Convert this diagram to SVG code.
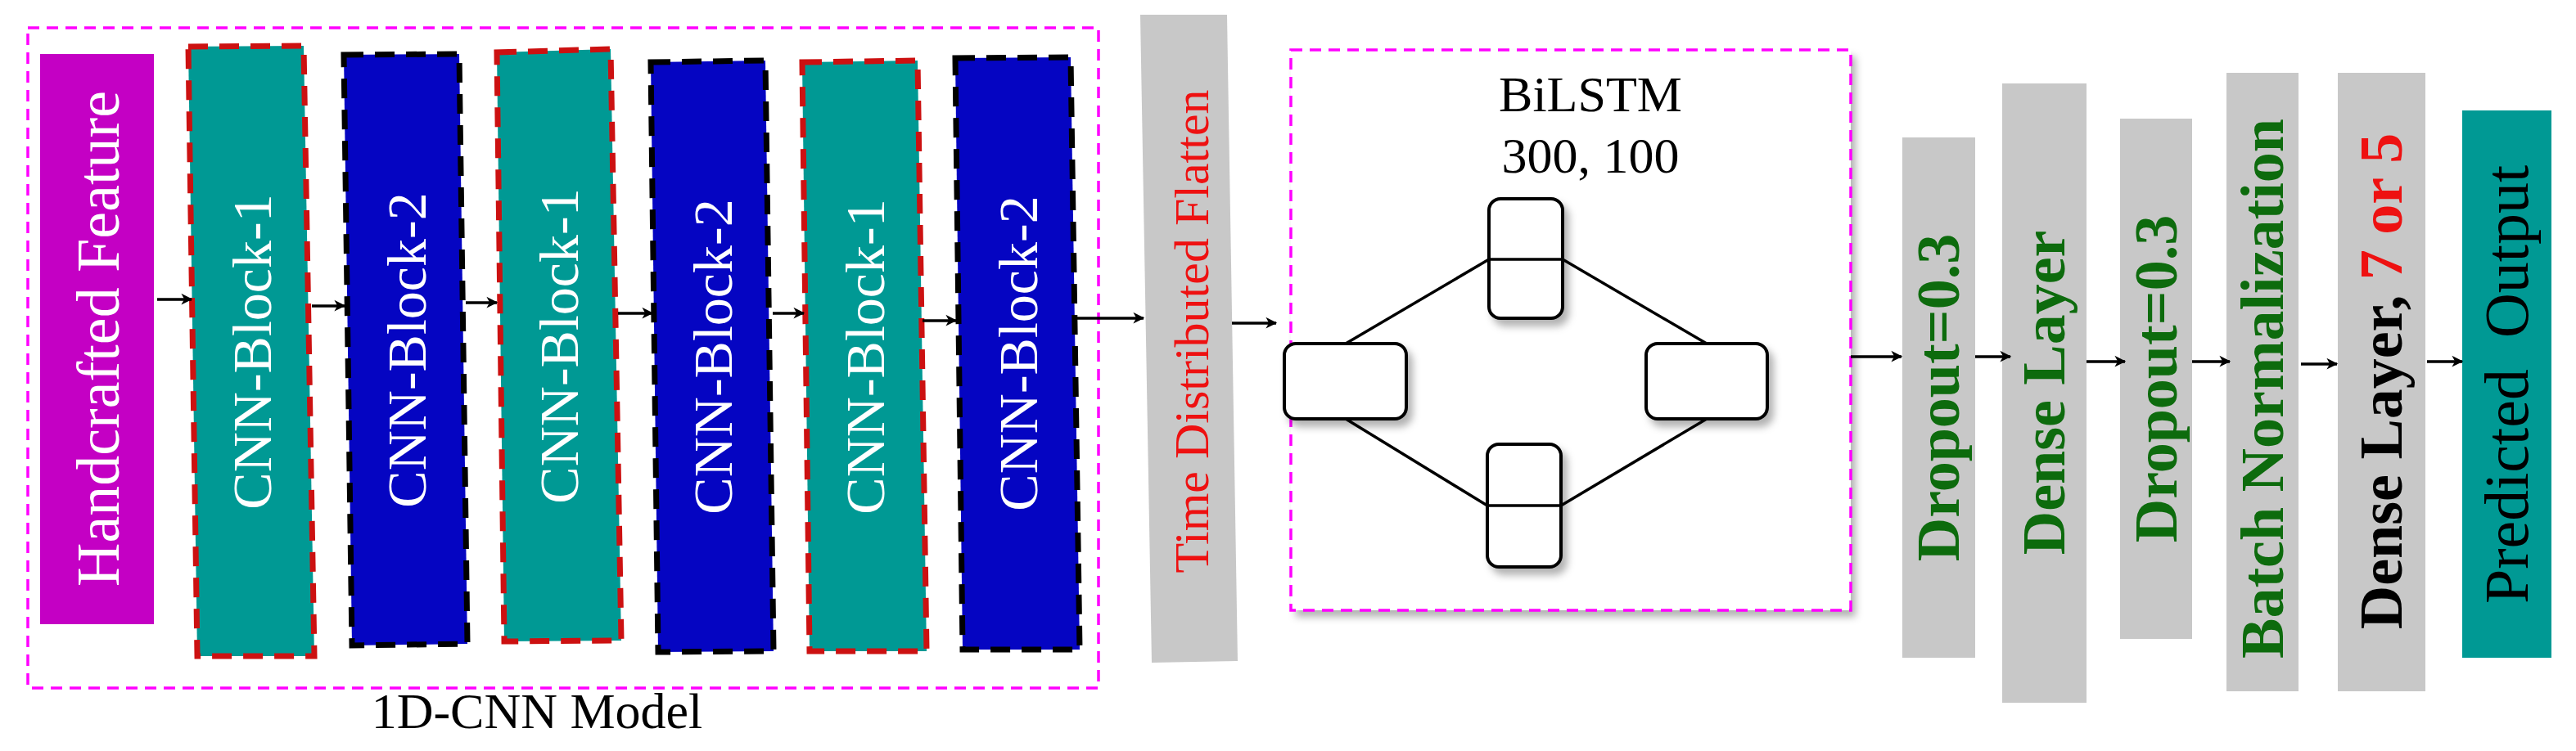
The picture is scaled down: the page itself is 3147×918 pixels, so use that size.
<svg xmlns="http://www.w3.org/2000/svg" width="3147" height="918" viewBox="0 0 3147 918">
<style>
.frame{fill:none;stroke:#ff00ff;stroke-width:3.5;stroke-dasharray:14 9}
.teal{fill:#009994;stroke:#cc1111;stroke-width:7;stroke-dasharray:24 14}
.blue{fill:#0505c2;stroke:#000;stroke-width:7;stroke-dasharray:24 14}
.gray{fill:#c8c8c8}
.wt{font-family:"Liberation Serif",serif;fill:#fff;text-anchor:middle}
.gt{font-family:"Liberation Serif",serif;font-weight:bold;fill:#0d6b0d;text-anchor:middle;font-size:74px}
.bt{font-family:"Liberation Serif",serif;fill:#000;text-anchor:middle}
.con{stroke:#000;stroke-width:3.5;fill:none;marker-end:url(#ah)}
.cell{fill:#fff;stroke:#000;stroke-width:4;filter:url(#sh)}
.ln{stroke:#000;stroke-width:3.5;fill:none}
</style>
<defs>
<marker id="ah" viewBox="0 0 20 20" refX="18" refY="10" markerWidth="7" markerHeight="7" orient="auto" markerUnits="userSpaceOnUse" style="overflow:visible">
<path d="M-20,-12 L24,10 L-20,32 L-8,10 Z" fill="#000" transform="scale(0.9)"/>
</marker>
<filter id="sh" x="-20%" y="-20%" width="150%" height="150%"><feDropShadow dx="6" dy="8" stdDeviation="5" flood-color="#000" flood-opacity="0.3"/></filter>
</defs>
<g id="cnn-model">
<rect class="frame" x="34" y="34" width="1308" height="807"/>
<text class="bt" x="656" y="890" font-size="62">1D-CNN Model</text>
</g>
<g id="handcrafted">
<rect x="49" y="66" width="139" height="697" fill="#c400c4"/>
<text class="wt" font-size="74" transform="translate(118.5,414) rotate(-90)" y="26">Handcrafted Feature</text>
</g>
<g id="cnn1a"><polygon class="teal" points="230,57 371,56 384,802 241,802"/><text class="wt" font-size="68" transform="translate(307,430) rotate(-90)" y="24">CNN-Block-1</text></g>
<g id="cnn2a"><polygon class="blue" points="420,67 561,66 571,787 430,789"/><text class="wt" font-size="68" transform="translate(496,428) rotate(-90)" y="24">CNN-Block-2</text></g>
<g id="cnn1b"><polygon class="teal" points="607,64 746,60 759,783 616,784"/><text class="wt" font-size="68" transform="translate(682,423) rotate(-90)" y="24">CNN-Block-1</text></g>
<g id="cnn2b"><polygon class="blue" points="795,76 935,74 945,796 804,797"/><text class="wt" font-size="68" transform="translate(870,436) rotate(-90)" y="24">CNN-Block-2</text></g>
<g id="cnn1c"><polygon class="teal" points="980,76 1121,74 1132,796 989,796"/><text class="wt" font-size="68" transform="translate(1056,436) rotate(-90)" y="24">CNN-Block-1</text></g>
<g id="cnn2c"><polygon class="blue" points="1167,71 1308,70 1319,794 1176,794"/><text class="wt" font-size="68" transform="translate(1243,432) rotate(-90)" y="24">CNN-Block-2</text></g>
<g id="tdf"><polygon class="gray" points="1393,18 1499,18 1512,808 1407,810"/><text font-family="Liberation Serif,serif" font-size="60" fill="#ee1111" text-anchor="middle" transform="translate(1455,405) rotate(-90)" y="21">Time Distributed Flatten</text></g>
<g id="bilstm">
<rect x="1577" y="61" width="684" height="685" fill="#fff" filter="url(#sh)"/>
<rect class="frame" x="1577" y="61" width="684" height="685"/>
<text class="bt" x="1943" y="136" font-size="62">BiLSTM</text>
<text class="bt" x="1943" y="211" font-size="62">300, 100</text>
<path class="ln" d="M1644,420 L1819,317 M1909,317 L2085,420 M1644,512 L1817,618 M1907,618 L2085,512"/>
<rect class="cell" x="1819" y="243" width="90" height="146" rx="14"/>
<line class="ln" x1="1819" y1="317" x2="1909" y2="317"/>
<rect class="cell" x="1817" y="543" width="90" height="150" rx="14"/>
<line class="ln" x1="1817" y1="618" x2="1907" y2="618"/>
<rect class="cell" x="1569" y="420" width="149" height="92" rx="14"/>
<rect class="cell" x="2011" y="420" width="148" height="92" rx="14"/>
</g>
<g id="dropout1"><rect class="gray" x="2324" y="168" width="89" height="636"/><text class="gt" transform="translate(2368,486) rotate(-90)" y="25">Dropout=0.3</text></g>
<g id="dense1"><rect class="gray" x="2446" y="102" width="103" height="757"/><text class="gt" transform="translate(2497,480) rotate(-90)" y="25">Dense Layer</text></g>
<g id="dropout2"><rect class="gray" x="2590" y="145" width="88" height="636"/><text class="gt" transform="translate(2634,463) rotate(-90)" y="25">Dropout=0.3</text></g>
<g id="batchnorm"><rect class="gray" x="2720" y="89" width="88" height="756"/><text class="gt" transform="translate(2764,475) rotate(-90)" y="25">Batch Normalization</text></g>
<g id="dense2"><rect class="gray" x="2856" y="89" width="107" height="756"/><text class="gt" transform="translate(2909,466) rotate(-90)" y="25"><tspan fill="#000">Dense Layer,</tspan><tspan fill="#ee1111"> 7 or 5</tspan></text></g>
<g id="predicted"><rect x="3008" y="135" width="109" height="669" fill="#009994"/><text class="bt" font-size="76" xml:space="preserve" transform="translate(3062,470) rotate(-90)" y="26">Predicted  Output</text></g>
<g id="connectors">
<line class="con" x1="192" y1="366" x2="234" y2="366"/>
<line class="con" x1="381" y1="374" x2="421" y2="374"/>
<line class="con" x1="569" y1="370" x2="607" y2="370"/>
<line class="con" x1="755" y1="383" x2="797" y2="383"/>
<line class="con" x1="944" y1="383" x2="982" y2="383"/>
<line class="con" x1="1127" y1="392" x2="1168" y2="392"/>
<line class="con" x1="1313" y1="389" x2="1397" y2="389"/>
<line class="con" x1="1505" y1="395" x2="1559" y2="395"/>
<line class="con" x1="2261" y1="436" x2="2323" y2="436"/>
<line class="con" x1="2413" y1="436" x2="2456" y2="436"/>
<line class="con" x1="2549" y1="442" x2="2596" y2="442"/>
<line class="con" x1="2678" y1="442" x2="2724" y2="442"/>
<line class="con" x1="2811" y1="445" x2="2855" y2="445"/>
<line class="con" x1="2965" y1="442" x2="3008" y2="442"/>
</g>
</svg>
